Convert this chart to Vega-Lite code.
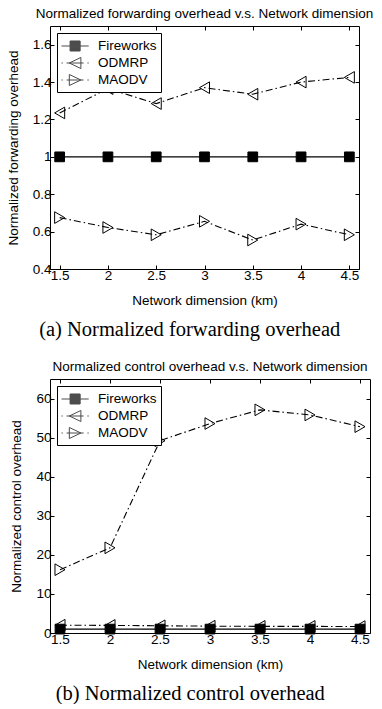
{
  "$schema": "https://vega.github.io/schema/vega-lite/v6.json",
  "background": "white",
  "padding": {"left": 5, "top": 6, "right": 5, "bottom": 0},
  "datasets": {
    "fwd": [
      {"series": "Fireworks", "dim": 1.5, "value": 1},
      {"series": "Fireworks", "dim": 2, "value": 1},
      {"series": "Fireworks", "dim": 2.5, "value": 1},
      {"series": "Fireworks", "dim": 3, "value": 1},
      {"series": "Fireworks", "dim": 3.5, "value": 1},
      {"series": "Fireworks", "dim": 4, "value": 1},
      {"series": "Fireworks", "dim": 4.5, "value": 1},
      {"series": "ODMRP", "dim": 1.5, "value": 1.235},
      {"series": "ODMRP", "dim": 2, "value": 1.365},
      {"series": "ODMRP", "dim": 2.5, "value": 1.285},
      {"series": "ODMRP", "dim": 3, "value": 1.37},
      {"series": "ODMRP", "dim": 3.5, "value": 1.335},
      {"series": "ODMRP", "dim": 4, "value": 1.4},
      {"series": "ODMRP", "dim": 4.5, "value": 1.425},
      {"series": "MAODV", "dim": 1.5, "value": 0.675},
      {"series": "MAODV", "dim": 2, "value": 0.622},
      {"series": "MAODV", "dim": 2.5, "value": 0.583},
      {"series": "MAODV", "dim": 3, "value": 0.655},
      {"series": "MAODV", "dim": 3.5, "value": 0.555},
      {"series": "MAODV", "dim": 4, "value": 0.64},
      {"series": "MAODV", "dim": 4.5, "value": 0.583}
    ],
    "ctrl": [
      {"series": "Fireworks", "dim": 1.5, "value": 1},
      {"series": "Fireworks", "dim": 2, "value": 1},
      {"series": "Fireworks", "dim": 2.5, "value": 1},
      {"series": "Fireworks", "dim": 3, "value": 1},
      {"series": "Fireworks", "dim": 3.5, "value": 1},
      {"series": "Fireworks", "dim": 4, "value": 1},
      {"series": "Fireworks", "dim": 4.5, "value": 1},
      {"series": "ODMRP", "dim": 1.5, "value": 2.0},
      {"series": "ODMRP", "dim": 2, "value": 1.95},
      {"series": "ODMRP", "dim": 2.5, "value": 1.85},
      {"series": "ODMRP", "dim": 3, "value": 1.75},
      {"series": "ODMRP", "dim": 3.5, "value": 1.7},
      {"series": "ODMRP", "dim": 4, "value": 1.7},
      {"series": "ODMRP", "dim": 4.5, "value": 1.65},
      {"series": "MAODV", "dim": 1.5, "value": 16.2},
      {"series": "MAODV", "dim": 2, "value": 21.8},
      {"series": "MAODV", "dim": 2.5, "value": 49.2},
      {"series": "MAODV", "dim": 3, "value": 53.6},
      {"series": "MAODV", "dim": 3.5, "value": 57.1},
      {"series": "MAODV", "dim": 4, "value": 55.8},
      {"series": "MAODV", "dim": 4.5, "value": 52.8}
    ]
  },
  "vconcat": [
    {
      "title": {"text": "(a)  Normalized forwarding overhead", "orient": "bottom", "font": "Liberation Serif", "fontSize": 20.5, "fontWeight": "normal", "color": "black", "offset": 12, "anchor": "middle"},
      "vconcat": [
        {
          "width": 309,
          "height": 243,
          "title": {"text": "Normalized forwarding overhead v.s. Network dimension", "offset": 5},
          "data": {"name": "fwd"},
          "resolve": {"scale": {"shape": "independent"}, "axis": {"x": "independent", "y": "independent"}},
          "layer": [
            {
              "mark": {"type": "line", "color": "black", "strokeWidth": 1.1},
              "encoding": {
                "x": {"field": "dim", "type": "quantitative", "scale": {"domain": [1.4, 4.6], "nice": false, "zero": false},
                      "axis": {"orient": "bottom", "values": [1.5, 2, 2.5, 3, 3.5, 4, 4.5], "format": "~g", "title": "Network dimension (km)"}},
                "y": {"field": "value", "type": "quantitative", "scale": {"domain": [0.4, 1.7], "nice": false, "zero": false},
                      "axis": {"orient": "left", "values": [0.4, 0.6, 0.8, 1, 1.2, 1.4, 1.6], "format": "~g", "title": "Normalized forwarding overhead"}},
                "detail": {"field": "series"},
                "strokeDash": {"field": "series", "type": "nominal", "scale": {"domain": ["Fireworks", "ODMRP", "MAODV"], "range": [[1, 0], [7, 3, 1.5, 3], [7, 3, 1.5, 3]]}, "legend": null}
              }
            },
            {
              "mark": {"type": "point", "filled": true, "stroke": "black", "strokeWidth": 1, "size": 130, "opacity": 1},
              "encoding": {
                "x": {"field": "dim", "type": "quantitative", "axis": {"orient": "top", "values": [1.5, 2, 2.5, 3, 3.5, 4, 4.5], "labels": false, "title": null}},
                "y": {"field": "value", "type": "quantitative", "axis": {"orient": "right", "values": [0.4, 0.6, 0.8, 1, 1.2, 1.4, 1.6], "labels": false, "title": null}},
                "shape": {"field": "series", "type": "nominal", "scale": {"domain": ["Fireworks", "ODMRP", "MAODV"], "range": ["square", "triangle-left", "triangle-right"]}, "legend": null},
                "fill": {"condition": {"test": "datum.series === 'Fireworks'", "value": "black"}, "value": "transparent"},
                "size": {"condition": {"test": "datum.series === 'Fireworks'", "value": 95}, "value": 135}
              }
            },
            {
              "transform": [{"filter": "false"}],
              "mark": {"type": "point", "filled": false, "color": "black", "stroke": "black", "strokeWidth": 1},
              "encoding": {
                "x": {"field": "dim", "type": "quantitative", "axis": null},
                "y": {"field": "value", "type": "quantitative", "axis": null},
                "shape": {"field": "series", "type": "nominal", "title": null,
                  "scale": {"domain": ["Fireworks", "ODMRP", "MAODV"], "range": [
                    "M-1,0H2.2M0.01,-0.59H1.19V0.59H0.01ZM0.01,-0.53H1.19M0.01,-0.47H1.19M0.01,-0.41H1.19M0.01,-0.35H1.19M0.01,-0.29H1.19M0.01,-0.23H1.19M0.01,-0.17H1.19M0.01,-0.11H1.19M0.01,-0.05H1.19M0.01,0.05H1.19M0.01,0.11H1.19M0.01,0.17H1.19M0.01,0.23H1.19M0.01,0.29H1.19M0.01,0.35H1.19M0.01,0.41H1.19M0.01,0.47H1.19M0.01,0.53H1.19",
                    "M-1,0H-0.85M-0.4,0H1.6M2.05,0H2.2M-0.08,0L1.28,-0.65L1.28,0.65Z",
                    "M-1,0H-0.85M-0.4,0H1.6M2.05,0H2.2M1.28,0L-0.08,-0.65L-0.08,0.65Z"]},
                  "legend": {"orient": "top-left", "offset": 7, "padding": 4, "strokeColor": "black", "fillColor": "white", "cornerRadius": 0,
                    "labelFont": "Liberation Sans", "labelFontSize": 13.5, "labelColor": "black", "symbolSize": 289, "labelOffset": 19, "rowPadding": 0,
                    "symbolStrokeColor": "black", "symbolStrokeWidth": 1, "symbolFillColor": "transparent",
                    "encode": {"symbols": {"stroke": {"value": "black"}, "strokeWidth": {"value": 1}, "fill": {"value": "transparent"}}}}}
              }
            }
          ]
        }
      ]
    },
    {
      "title": {"text": "(b)  Normalized control overhead", "orient": "bottom", "font": "Liberation Serif", "fontSize": 20.5, "fontWeight": "normal", "color": "black", "offset": 12, "anchor": "middle"},
      "vconcat": [
        {
          "width": 320,
          "height": 254,
          "title": {"text": "Normalized control overhead v.s. Network dimension", "offset": 5},
          "data": {"name": "ctrl"},
          "resolve": {"scale": {"shape": "independent"}, "axis": {"x": "independent", "y": "independent"}},
          "layer": [
            {
              "mark": {"type": "line", "color": "black", "strokeWidth": 1.1},
              "encoding": {
                "x": {"field": "dim", "type": "quantitative", "scale": {"domain": [1.4, 4.6], "nice": false, "zero": false},
                      "axis": {"orient": "bottom", "values": [1.5, 2, 2.5, 3, 3.5, 4, 4.5], "format": "~g", "title": "Network dimension (km)"}},
                "y": {"field": "value", "type": "quantitative", "scale": {"domain": [0, 65], "nice": false},
                      "axis": {"orient": "left", "values": [0, 10, 20, 30, 40, 50, 60], "format": "d", "title": "Normalized control overhead"}},
                "detail": {"field": "series"},
                "strokeDash": {"field": "series", "type": "nominal", "scale": {"domain": ["Fireworks", "ODMRP", "MAODV"], "range": [[1, 0], [7, 3, 1.5, 3], [7, 3, 1.5, 3]]}, "legend": null}
              }
            },
            {
              "mark": {"type": "point", "filled": true, "stroke": "black", "strokeWidth": 1, "size": 130, "opacity": 1},
              "encoding": {
                "x": {"field": "dim", "type": "quantitative", "axis": {"orient": "top", "values": [1.5, 2, 2.5, 3, 3.5, 4, 4.5], "labels": false, "title": null}},
                "y": {"field": "value", "type": "quantitative", "axis": {"orient": "right", "values": [0, 10, 20, 30, 40, 50, 60], "labels": false, "title": null}},
                "shape": {"field": "series", "type": "nominal", "scale": {"domain": ["Fireworks", "ODMRP", "MAODV"], "range": ["square", "triangle-left", "triangle-right"]}, "legend": null},
                "fill": {"condition": {"test": "datum.series === 'Fireworks'", "value": "black"}, "value": "transparent"},
                "size": {"condition": {"test": "datum.series === 'Fireworks'", "value": 95}, "value": 135}
              }
            },
            {
              "transform": [{"filter": "false"}],
              "mark": {"type": "point", "filled": false, "color": "black", "stroke": "black", "strokeWidth": 1},
              "encoding": {
                "x": {"field": "dim", "type": "quantitative", "axis": null},
                "y": {"field": "value", "type": "quantitative", "axis": null},
                "shape": {"field": "series", "type": "nominal", "title": null,
                  "scale": {"domain": ["Fireworks", "ODMRP", "MAODV"], "range": [
                    "M-1,0H2.2M0.01,-0.59H1.19V0.59H0.01ZM0.01,-0.53H1.19M0.01,-0.47H1.19M0.01,-0.41H1.19M0.01,-0.35H1.19M0.01,-0.29H1.19M0.01,-0.23H1.19M0.01,-0.17H1.19M0.01,-0.11H1.19M0.01,-0.05H1.19M0.01,0.05H1.19M0.01,0.11H1.19M0.01,0.17H1.19M0.01,0.23H1.19M0.01,0.29H1.19M0.01,0.35H1.19M0.01,0.41H1.19M0.01,0.47H1.19M0.01,0.53H1.19",
                    "M-1,0H-0.85M-0.4,0H1.6M2.05,0H2.2M-0.08,0L1.28,-0.65L1.28,0.65Z",
                    "M-1,0H-0.85M-0.4,0H1.6M2.05,0H2.2M1.28,0L-0.08,-0.65L-0.08,0.65Z"]},
                  "legend": {"orient": "top-left", "offset": 7, "padding": 4, "strokeColor": "black", "fillColor": "white", "cornerRadius": 0,
                    "labelFont": "Liberation Sans", "labelFontSize": 13.5, "labelColor": "black", "symbolSize": 289, "labelOffset": 19, "rowPadding": 0,
                    "symbolStrokeColor": "black", "symbolStrokeWidth": 1, "symbolFillColor": "transparent",
                    "encode": {"symbols": {"stroke": {"value": "black"}, "strokeWidth": {"value": 1}, "fill": {"value": "transparent"}}}}}
              }
            }
          ]
        }
      ]
    }
  ],
  "spacing": 19,
  "config": {
    "font": "Liberation Sans",
    "view": {"stroke": "black", "strokeWidth": 1},
    "concat": {"spacing": 19},
    "title": {"font": "Liberation Sans", "fontSize": 13.5, "fontWeight": "normal", "color": "black", "anchor": "middle"},
    "axis": {
      "domain": false, "grid": false, "tickSize": -4, "tickColor": "black", "tickWidth": 1,
      "labelFont": "Liberation Sans", "labelFontSize": 13.5, "labelColor": "black",
      "titleFont": "Liberation Sans", "titleFontSize": 13.5, "titleFontWeight": "normal", "titleColor": "black",
      "labelPadding": 3, "titlePadding": 12
    }
  }
}
